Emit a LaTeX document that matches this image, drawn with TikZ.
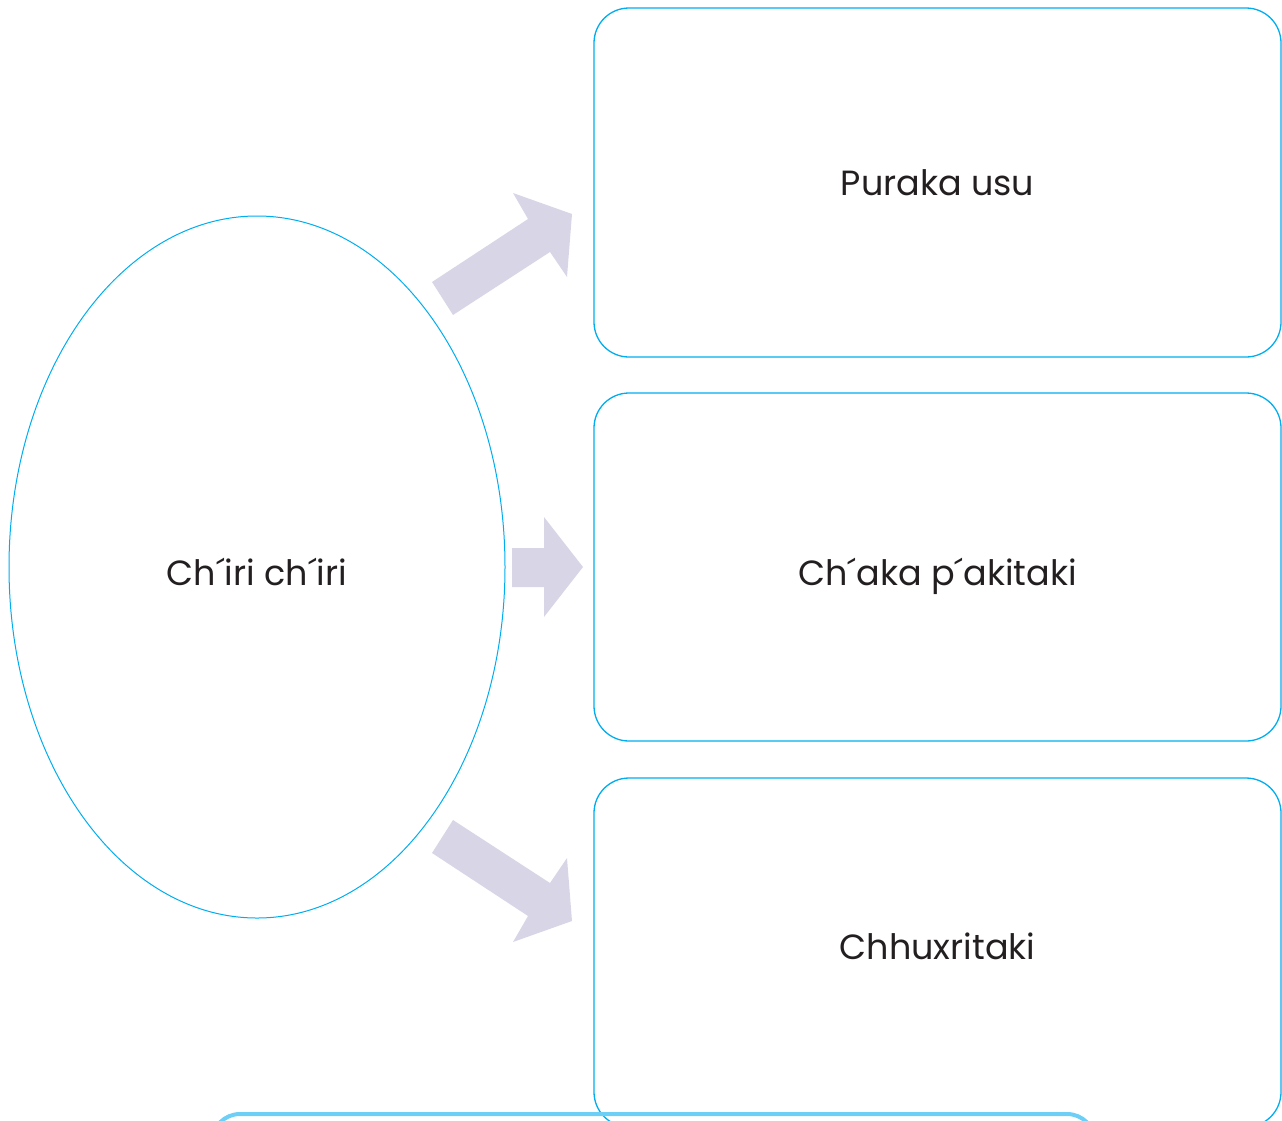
\documentclass[tikz,border=0pt]{standalone}
\usepackage{fontspec}
\setmainfont{Poppins}
\usetikzlibrary{shapes.geometric}
\definecolor{edgeblue}{HTML}{00AEEF}
\definecolor{lightblue}{HTML}{6DCFF6}
\definecolor{arrowfill}{HTML}{D8D6E6}
\definecolor{textgray}{HTML}{231F20}
\tikzset{
  box/.style={draw=edgeblue, line width=1.3pt, rounded corners=35pt},
  lbl/.style={text=textgray, font=\fontsize{35}{42}\selectfont, anchor=base, inner sep=0pt},
  fatarrow/.style={fill=arrowfill, draw=none},
}
\begin{document}
\begin{tikzpicture}[x=1pt,y=-1pt]
\useasboundingbox (0,0) rectangle (1282,1120);
\clip (0,0) rectangle (1282,1120);
% ellipse
\node[ellipse, draw=edgeblue, line width=1pt, minimum width=496pt, minimum height=702pt, inner sep=0pt] (e) at (257,567) {};
\node[lbl] (et) at (257,585) {Ch´iri ch´iri};
% boxes
\node[box, minimum width=687pt, minimum height=349pt, inner sep=0pt] (b1) at (937.5,182.5) {};
\node[lbl] (t1) at (937.5,195) {Puraka usu};
\node[box, minimum width=687pt, minimum height=348pt, inner sep=0pt] (b2) at (937.5,567) {};
\node[lbl] (t2) at (937.5,585) {Ch´aka p´akitaki};
\node[box, minimum width=687pt, minimum height=349pt, inner sep=0pt] (b3) at (937.5,952.5) {};
\node[lbl] (t3) at (937.5,959) {Chhuxritaki};
% bottom box
\draw[draw=lightblue, line width=4pt, rounded corners=28pt] (212,1114) rectangle (1095,1250);
% arrows
\fill[fatarrow] (432,282) -- (528,219) -- (513,193) -- (572,214) -- (567,277) -- (550,252) -- (453,315) -- cycle;
\fill[fatarrow] (512,548) -- (544,548) -- (544,517) -- (583,567) -- (544,617) -- (544,587) -- (512,587) -- cycle;
\fill[fatarrow] (432,853) -- (528,916) -- (513,942) -- (572,921) -- (567,858) -- (550,883) -- (453,820) -- cycle;
\end{tikzpicture}
\end{document}
